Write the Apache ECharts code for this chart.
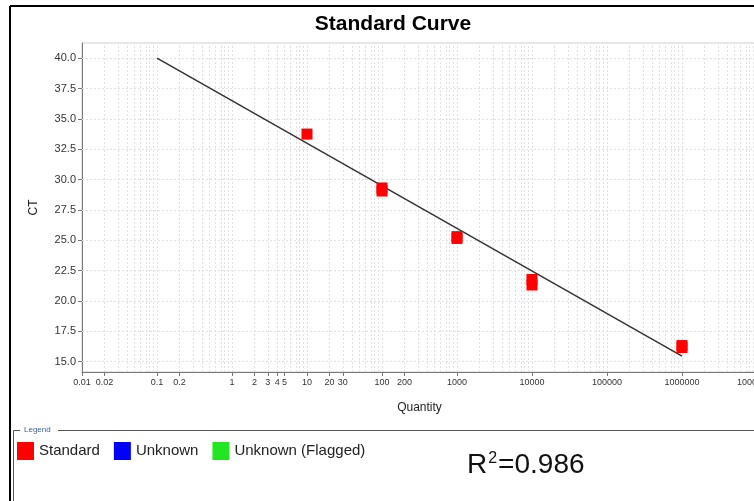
<!DOCTYPE html>
<html>
<head>
<meta charset="utf-8">
<script src="https://cdn.jsdelivr.net/npm/echarts@6/dist/echarts.min.js"></script>
<style>html,body{margin:0;padding:0;background:#fff;}#c{width:754px;height:501px;}</style>
</head>
<body>
<div id="c"></div>
<script>
// ---- data ----
const stdQuantity = [10, 100, 100, 1000, 1000, 10000, 10000, 1000000, 1000000];
const stdCt = [33.75, 29.31, 29.06, 25.3, 25.15, 21.77, 21.32, 16.33, 16.17];
const fitQuantity = [0.1, 1000000];
const fitCt = [40.0, 15.45];
const xTickLabels = [0.01, 0.02, 0.1, 0.2, 1, 2, 3, 4, 5, 10, 20, 30, 100, 200, 1000, 10000, 100000, 1000000, 10000000];
const yTickLabels = [15, 17.5, 20, 22.5, 25, 27.5, 30, 32.5, 35, 37.5, 40];
const legendNames = ['Standard', 'Unknown', 'Unknown (Flagged)'];
const rSquared = '0.986';

const lg = v => Math.log10(v);
const xGrid = [];
for (let n = -2; n <= 6; n++) for (let k = 1; k <= 9; k++) { if (!(n === -2 && k === 1)) xGrid.push(lg(k * Math.pow(10, n))); }
xGrid.push(7);

const font = 'Liberation Sans, Arial, sans-serif';
const chart = echarts.init(document.getElementById('c'));
chart.setOption({
  animation: false,
  backgroundColor: '#fff',
  title: {
    text: 'Standard Curve', left: 388, textAlign: 'center', top: 9,
    textStyle: { fontFamily: font, fontSize: 21, fontWeight: 'bold', color: '#000' }
  },
  legend: {
    data: legendNames, left: 12, top: 437, icon: 'rect', itemWidth: 17, itemHeight: 18, itemGap: 14,
    textStyle: { fontFamily: font, fontSize: 15, color: '#222' }, selectedMode: false
  },
  grid: { left: 82, top: 43, width: 675, height: 329, show: true, borderColor: '#d0d0d0', borderWidth: 1,
    containLabel: false, outerBoundsMode: 'none' },
  xAxis: {
    type: 'value', min: -2, max: 7,
    name: 'Quantity', nameLocation: 'middle', nameGap: 30,
    nameTextStyle: { fontFamily: font, fontSize: 12, color: '#222' },
    axisLine: { onZero: false, lineStyle: { color: '#777' } },
    axisTick: { show: true, customValues: xTickLabels.map(lg), length: 4, lineStyle: { color: '#777' } },
    axisLabel: { customValues: xTickLabels.map(lg), fontFamily: font, fontSize: 9, color: '#333', margin: 6,
      hideOverlap: false, showMaxLabel: true, showMinLabel: true,
      formatter: v => String(Number(Math.pow(10, v).toPrecision(6))) },
    splitLine: { show: false }
  },
  yAxis: {
    type: 'value', min: 14.15, max: 41.25,
    name: 'CT', nameLocation: 'middle', nameGap: 42, nameRotate: 90,
    nameTextStyle: { fontFamily: font, fontSize: 12, color: '#222' },
    axisLine: { show: true, onZero: false, lineStyle: { color: '#777' } },
    axisTick: { show: true, customValues: yTickLabels, length: 4, lineStyle: { color: '#777' } },
    axisLabel: { customValues: yTickLabels, fontFamily: font, fontSize: 11, color: '#333', margin: 6,
      formatter: v => v.toFixed(1) },
    splitLine: { show: false }
  },
  series: [
    {
      name: 'fit', type: 'line', z: 2, symbol: 'none', silent: true,
      data: fitQuantity.map((q, i) => [lg(q), fitCt[i]]),
      lineStyle: { color: '#333', width: 1.5 },
      markLine: {
        silent: true, z: 1, symbol: ['none', 'none'], label: { show: false },
        lineStyle: { color: '#e0e0e0', type: [2, 2], width: 1 },
        emphasis: { disabled: true },
        data: xGrid.map(v => ({ xAxis: v })).concat(yTickLabels.map(v => ({ yAxis: v })))
      }
    },
    {
      name: 'Standard', type: 'scatter', z: 3, symbol: 'rect', symbolSize: [11, 11],
      itemStyle: { color: '#ff0000', opacity: 1 },
      data: stdQuantity.map((q, i) => [lg(q), stdCt[i]])
    },
    { name: 'Unknown', type: 'scatter', symbol: 'rect', itemStyle: { color: '#0000ff', opacity: 1 }, data: [] },
    { name: 'Unknown (Flagged)', type: 'scatter', symbol: 'rect', itemStyle: { color: '#22e622', opacity: 1 }, data: [] }
  ],
  graphic: [
    { type: 'line', shape: { x1: 10, y1: 6, x2: 754, y2: 6 }, style: { stroke: '#000', lineWidth: 2 } },
    { type: 'line', shape: { x1: 10, y1: 6, x2: 10, y2: 501 }, style: { stroke: '#000', lineWidth: 2 } },
    { type: 'line', shape: { x1: 13.5, y1: 430.5, x2: 20, y2: 430.5 }, style: { stroke: '#555', lineWidth: 1 } },
    { type: 'line', shape: { x1: 58, y1: 430.5, x2: 754, y2: 430.5 }, style: { stroke: '#555', lineWidth: 1 } },
    { type: 'line', shape: { x1: 13.5, y1: 430.5, x2: 13.5, y2: 501 }, style: { stroke: '#555', lineWidth: 1 } },
    { type: 'text', left: 24, top: 426, style: { text: 'Legend', fontFamily: font, fontSize: 8, fill: '#3b5ba8' } },
    {
      type: 'text', left: 467, top: 451,
      style: {
        text: '{a|R}{s|2}{a|=' + rSquared + '}', fontFamily: font, fill: '#111',
        rich: { a: { fontSize: 28, fontFamily: font, fill: '#111', verticalAlign: 'bottom' },
                s: { fontSize: 16, fontFamily: font, fill: '#111', verticalAlign: 'top', padding: [0, 1, 0, 1] } }
      }
    }
  ]
});
</script>
</body>
</html>
